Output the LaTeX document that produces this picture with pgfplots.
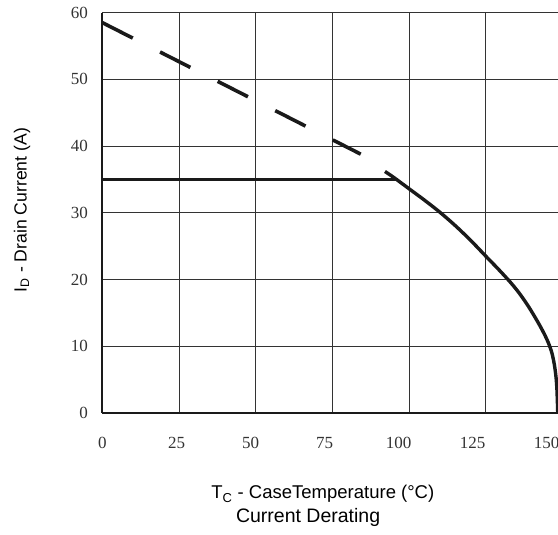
\documentclass[border=0pt]{standalone}
\usepackage{fontspec}
\setmainfont{Liberation Serif}
\setsansfont{Liberation Sans}
\usepackage{pgfplots}
\pgfplotsset{compat=1.18}
\definecolor{curve}{HTML}{1A1A1A}
\definecolor{gridc}{HTML}{333333}
\begin{document}
\begin{tikzpicture}
\path[use as bounding box] (-102.5pt,-122pt) rectangle (455.5pt,413pt);
\begin{axis}[
  scale only axis,
  width=460pt, height=400.3pt,
  xmin=0, xmax=150, ymin=0, ymax=60,
  xtick={0,25,...,150}, ytick={0,10,...,60},
  axis lines=left,
  axis line style={-, line width=2pt, color=curve},
  major tick length=0pt,
  grid=major,
  grid style={line width=1.2pt, color=gridc},
  /pgf/number format/assume math mode=true,
  tick label style={font=\fontsize{17}{20}\selectfont, text=gridc},
  yticklabel style={inner sep=0pt, anchor=east, xshift=-14.5pt},
  xticklabel style={inner sep=0pt, anchor=north, yshift=-24pt},
  xticklabel={\pgfmathparse{-0.21*\tick}\makebox[0pt]{\kern\pgfmathresult pt\pgfmathprintnumber{\tick}}},
  xlabel={T\textsubscript{C} - CaseTemperature (°C)},
  ylabel={I\textsubscript{D} - Drain Current (A)},
  xlabel style={font=\sffamily\fontsize{18.5}{22}\selectfont, at={(axis description cs:0.479,0)}, anchor=base, yshift=-86pt},
  ylabel style={font=\sffamily\fontsize{17.6}{21}\selectfont, at={(axis description cs:-0.175,0.507)}, anchor=center},
  title={Current Derating},
  title style={font=\sffamily\fontsize{19.5}{23}\selectfont, at={(axis description cs:0.447,0)}, anchor=base, yshift=-116pt},
  clip=false,
]
% dashed limit line
\addplot[curve, line width=3.6pt, dash pattern=on 34pt off 30.6pt] coordinates {
  (0,58.5) (84.2,38.8)
};
% package limit
\addplot[curve, line width=3.6pt] coordinates {
  (0,35) (96,35)
};
% derating curve
\addplot[curve, line width=3.4pt, smooth, tension=0.5, line join=round] coordinates {
  (92.1,36.2) (95,35.3) (100,33.6) (105,31.9) (110,30.1) (115,28.1)
  (120,25.9) (125,23.5) (129,21.6) (133,19.6) (136,17.9) (139,15.9)
  (142,13.6) (144,11.9) (145.5,10.4) (146.6,8.9) (147.4,7.1) (147.9,5.3)
  (148.2,3.4) (148.45,0)
};
\end{axis}
\end{tikzpicture}
\end{document}
